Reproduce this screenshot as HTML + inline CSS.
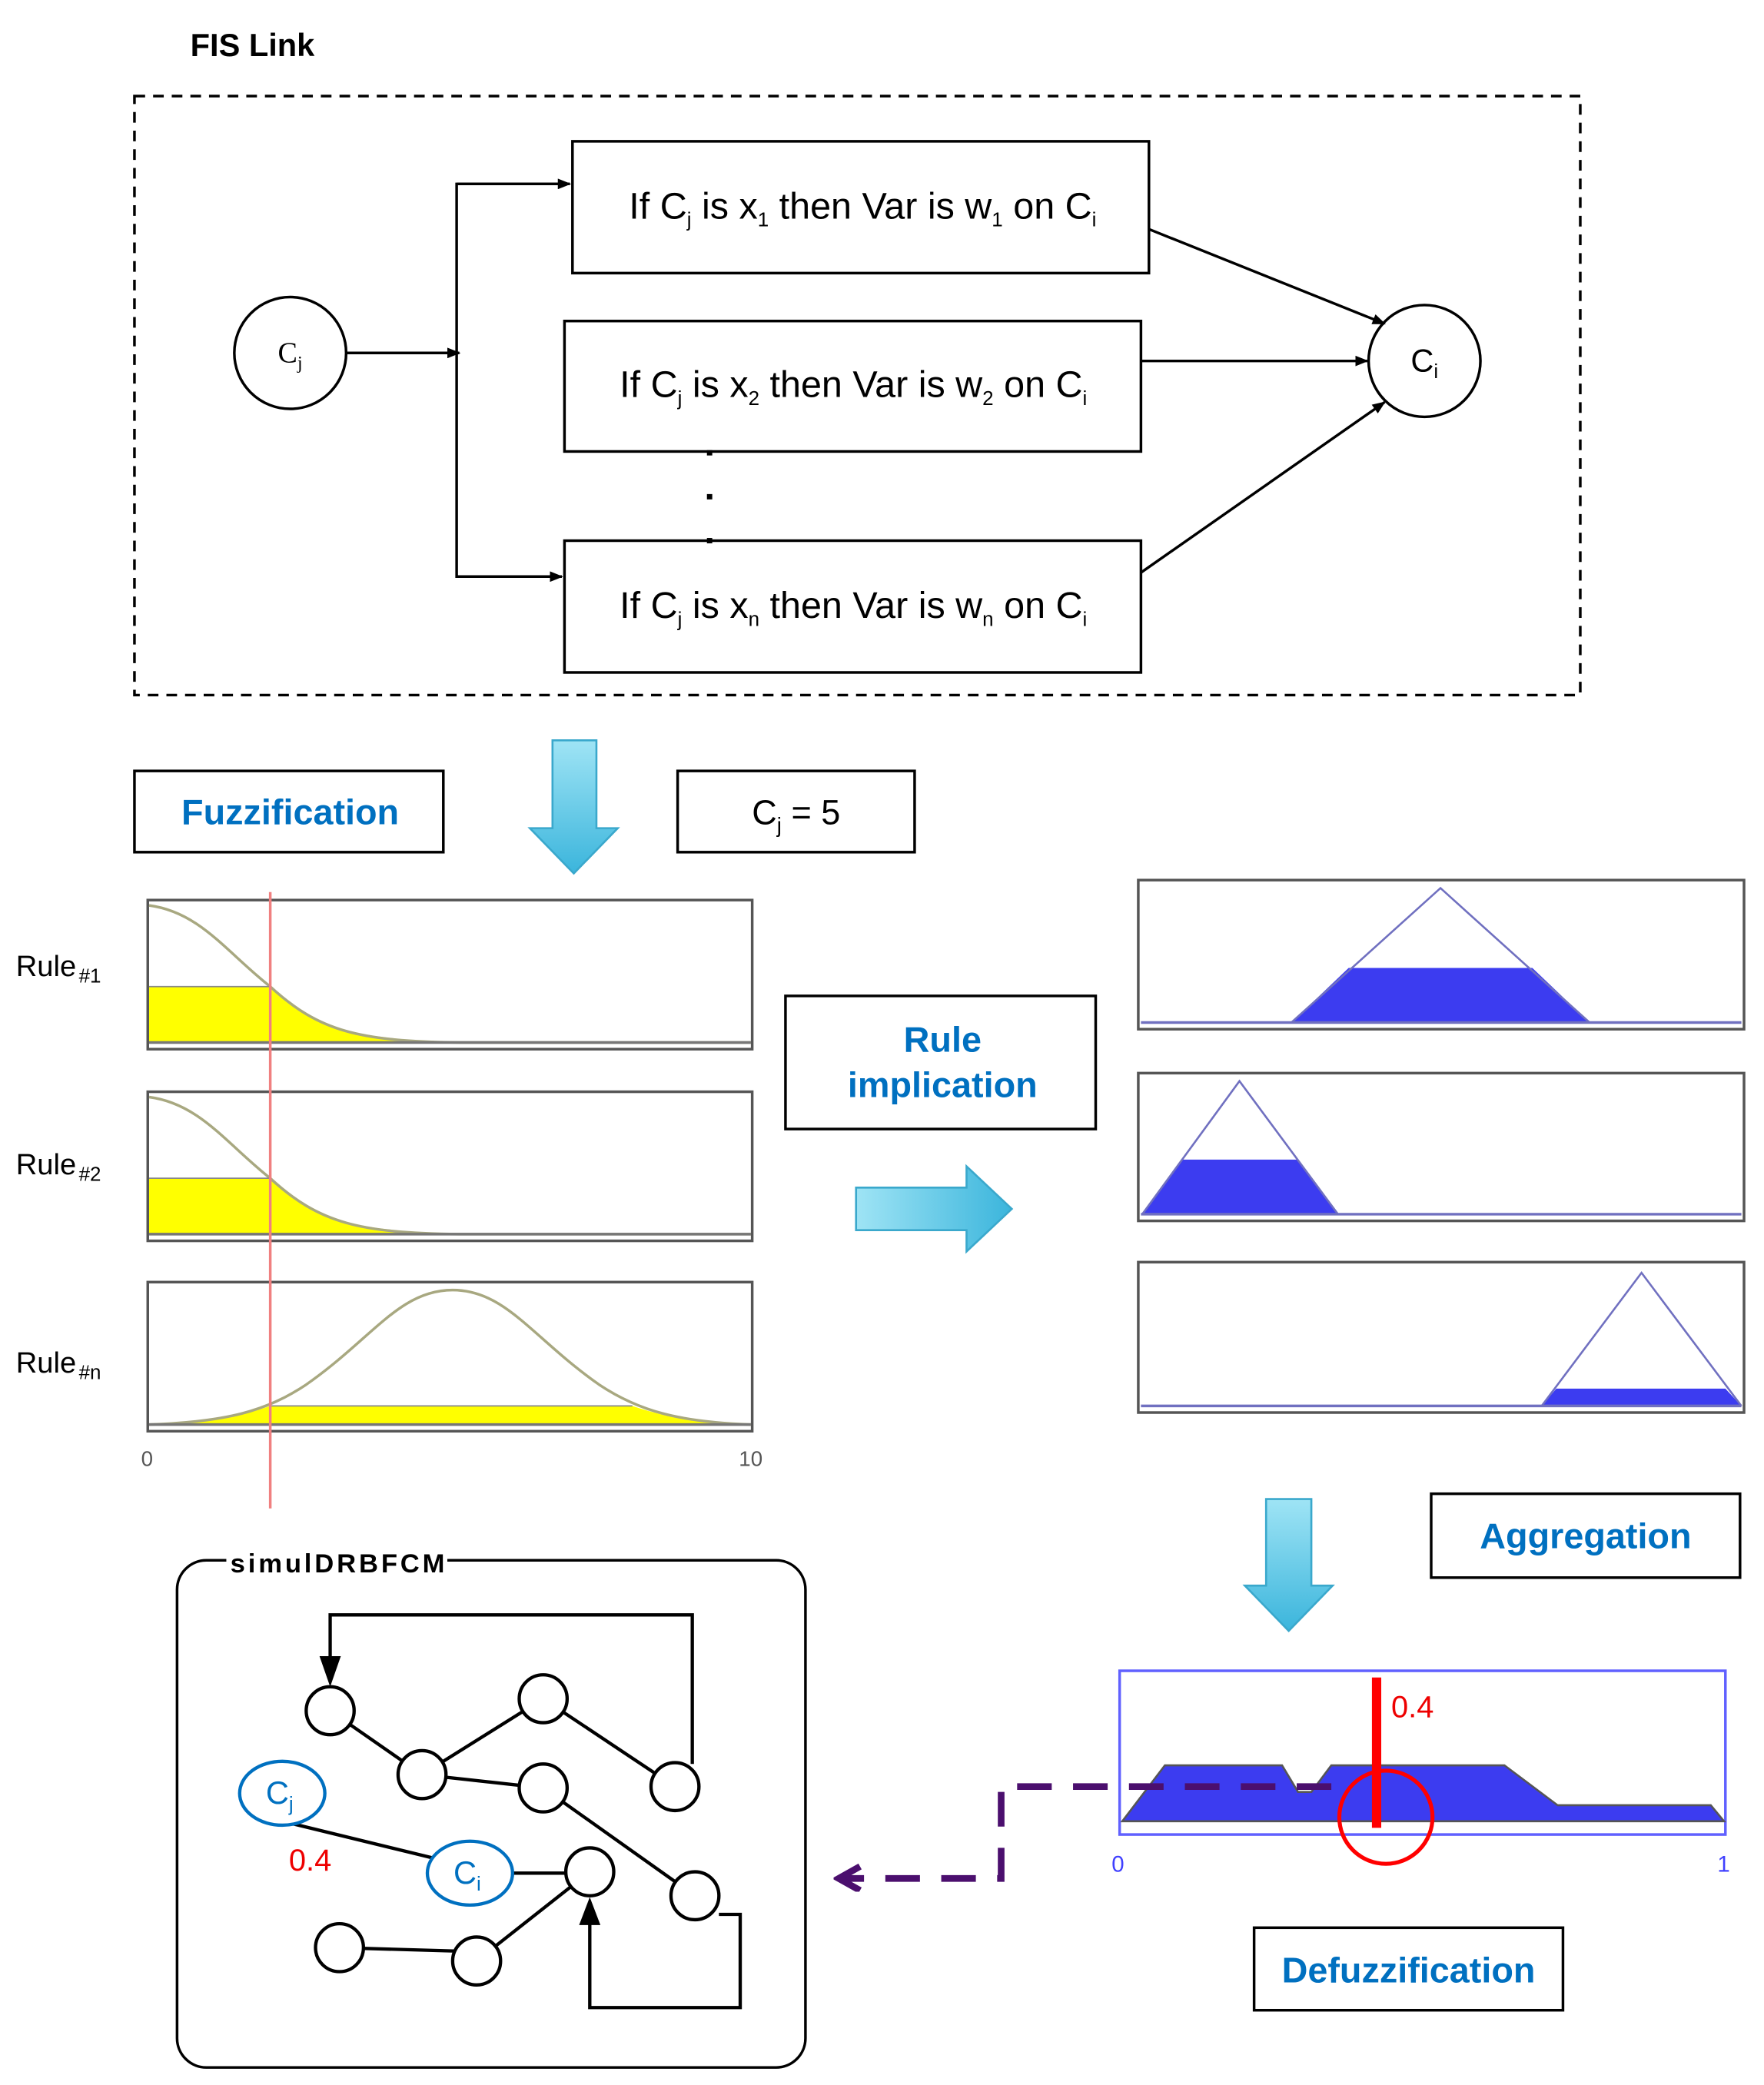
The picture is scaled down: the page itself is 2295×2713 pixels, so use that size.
<!DOCTYPE html>
<html><head><style>html,body{margin:0;padding:0;background:#fff}svg{display:block}</style></head>
<body>
<svg width="2295" height="2713" viewBox="0 0 1325 1566" xmlns="http://www.w3.org/2000/svg" font-family="Liberation Sans, sans-serif">
<defs>
<marker id="a" markerWidth="10" markerHeight="8" refX="9" refY="4" orient="auto" markerUnits="userSpaceOnUse"><path d="M0,0 L10,4 L0,8 Z" fill="#000"/></marker>
<marker id="p" markerWidth="22" markerHeight="22" refX="18" refY="10" orient="auto" markerUnits="userSpaceOnUse"><path d="M2,1 L18,10 L2,19" fill="none" stroke="#4b0f6e" stroke-width="5"/></marker>
<linearGradient id="g" x1="0" x2="1"><stop offset="0" stop-color="#9fe4f5"/><stop offset="1" stop-color="#3bb5dc"/></linearGradient>
<linearGradient id="gv" x1="0" x2="0" y1="0" y2="1"><stop offset="0" stop-color="#9fe4f5"/><stop offset="1" stop-color="#3bb5dc"/></linearGradient>
</defs>
<text x="143" y="42" font-size="24" font-weight="bold">FIS Link</text>
<rect x="101" y="72" width="1086" height="450" fill="none" stroke="#000" stroke-width="2" stroke-dasharray="8,6"/>
<circle cx="218" cy="265" r="42" fill="#fff" stroke="#000" stroke-width="2"/>
<text x="218" y="272" font-size="22" text-anchor="middle" font-family="Liberation Serif, serif">C<tspan font-size="14" dy="5">j</tspan></text>
<line x1="260" y1="265" x2="345" y2="265" stroke="#000" stroke-width="2" marker-end="url(#a)"/>
<path d="M428,138 H343 V433 H422" fill="none" stroke="#000" stroke-width="2"/>
<line x1="343" y1="138" x2="428" y2="138" stroke="#000" stroke-width="2" marker-end="url(#a)"/>
<line x1="343" y1="433" x2="422" y2="433" stroke="#000" stroke-width="2" marker-end="url(#a)"/>
<g fill="#fff" stroke="#000" stroke-width="2">
<rect x="430" y="106" width="433" height="99"/><rect x="424" y="241" width="433" height="98"/><rect x="424" y="406" width="433" height="99"/></g>
<g font-size="28" text-anchor="middle">
<text x="648" y="164">If C<tspan font-size="15" dy="6">j</tspan><tspan dy="-6"> is x</tspan><tspan font-size="15" dy="6">1</tspan><tspan dy="-6"> then Var is w</tspan><tspan font-size="15" dy="6">1</tspan><tspan dy="-6"> on C</tspan><tspan font-size="15" dy="6">i</tspan></text>
<text x="641" y="298">If C<tspan font-size="15" dy="6">j</tspan><tspan dy="-6"> is x</tspan><tspan font-size="15" dy="6">2</tspan><tspan dy="-6"> then Var is w</tspan><tspan font-size="15" dy="6">2</tspan><tspan dy="-6"> on C</tspan><tspan font-size="15" dy="6">i</tspan></text>
<text x="641" y="464">If C<tspan font-size="15" dy="6">j</tspan><tspan dy="-6"> is x</tspan><tspan font-size="15" dy="6">n</tspan><tspan dy="-6"> then Var is w</tspan><tspan font-size="15" dy="6">n</tspan><tspan dy="-6"> on C</tspan><tspan font-size="15" dy="6">i</tspan></text>
</g>
<g fill="#000"><rect x="531" y="338" width="4" height="4"/><rect x="531" y="371" width="4" height="4"/><rect x="531" y="404" width="4" height="4"/></g>
<circle cx="1070" cy="271" r="42" fill="#fff" stroke="#000" stroke-width="2"/>
<text x="1070" y="279" font-size="24" text-anchor="middle">C<tspan font-size="15" dy="5">i</tspan></text>
<line x1="863" y1="172" x2="1040" y2="243" stroke="#000" stroke-width="2" marker-end="url(#a)"/>
<line x1="857" y1="271" x2="1027" y2="271" stroke="#000" stroke-width="2" marker-end="url(#a)"/>
<line x1="857" y1="430" x2="1040" y2="302" stroke="#000" stroke-width="2" marker-end="url(#a)"/>
<!-- Fuzzification -->
<rect x="101" y="579" width="232" height="61" fill="#fff" stroke="#000" stroke-width="2"/>
<text x="218" y="619" font-size="27" font-weight="bold" fill="#0070c0" text-anchor="middle">Fuzzification</text>
<path d="M415,556 H448 V622 H464 L431,656 L398,622 H415 Z" fill="url(#gv)" stroke="#3aa8cc" stroke-width="1.5"/>
<rect x="509" y="579" width="178" height="61" fill="#fff" stroke="#000" stroke-width="2"/>
<text x="598" y="619" font-size="26" text-anchor="middle">C<tspan font-size="16" dy="6">j</tspan><tspan dy="-6"> = 5</tspan></text>
<!-- rule plots -->
<g stroke="#555" stroke-width="2" fill="#fff">
<rect x="111" y="676" width="454" height="112"/><rect x="111" y="820" width="454" height="112"/><rect x="111" y="963" width="454" height="112"/></g>
<rect x="112" y="741" width="91" height="42" fill="#ffff00"/>
<path d="M203,741 C240,775 270,780 345,783 L203,783 Z" fill="#ffff00"/>
<path d="M112,680 C150,685 170,715 203,741 C240,775 270,782 345,783 L564,783" fill="none" stroke="#a8a880" stroke-width="2"/>
<line x1="112" y1="741" x2="203" y2="741" stroke="#888" stroke-width="1"/>
<line x1="112" y1="783" x2="564" y2="783" stroke="#777" stroke-width="2"/>
<rect x="112" y="885" width="91" height="42" fill="#ffff00"/>
<path d="M203,885 C240,919 270,924 345,927 L203,927 Z" fill="#ffff00"/>
<path d="M112,824 C150,829 170,859 203,885 C240,919 270,926 345,927 L564,927" fill="none" stroke="#a8a880" stroke-width="2"/>
<line x1="112" y1="885" x2="203" y2="885" stroke="#888" stroke-width="1"/>
<line x1="112" y1="927" x2="564" y2="927" stroke="#777" stroke-width="2"/>
<path d="M203,1056 L475,1056 C505,1066 530,1070 564,1070 L120,1070 C160,1068 180,1064 203,1056 Z" fill="#ffff00"/>
<line x1="203" y1="1056" x2="475" y2="1056" stroke="#888" stroke-width="1"/>
<path d="M112,1070 C170,1068 200,1060 230,1040 C280,1005 300,969 340,969 C380,969 400,1005 450,1040 C480,1060 510,1068 564,1070" fill="none" stroke="#a8a880" stroke-width="2"/>
<line x1="112" y1="1070" x2="564" y2="1070" stroke="#777" stroke-width="2"/>
<line x1="203" y1="670" x2="203" y2="1133" stroke="#f08080" stroke-width="2"/>
<g font-size="22"><text x="12" y="733">Rule<tspan font-size="15" dx="2" dy="5">#1</tspan></text>
<text x="12" y="882">Rule<tspan font-size="15" dx="2" dy="5">#2</tspan></text>
<text x="12" y="1031">Rule<tspan font-size="15" dx="2" dy="5">#n</tspan></text></g>
<text x="106" y="1101" font-size="16" fill="#555">0</text><text x="555" y="1101" font-size="16" fill="#555">10</text>
<!-- rule implication -->
<rect x="590" y="748" width="233" height="100" fill="#fff" stroke="#000" stroke-width="2"/>
<text x="708" y="790" font-size="27" font-weight="bold" fill="#0070c0" text-anchor="middle">Rule</text>
<text x="708" y="824" font-size="27" font-weight="bold" fill="#0070c0" text-anchor="middle">implication</text>
<path d="M643,892 H726 V876 L760,908 L726,940 V924 H643 Z" fill="url(#g)" stroke="#3aa8cc" stroke-width="1.5"/>
<g stroke="#555" stroke-width="2" fill="#fff">
<rect x="855" y="661" width="455" height="112"/><rect x="855" y="806" width="455" height="111"/><rect x="855" y="948" width="455" height="113"/></g>
<path d="M970,768 L1013,727 L1151,727 L1194,768 Z" fill="#3c3cf0"/>
<path d="M970,768 L1082,667 L1194,768" fill="none" stroke="#7070c0" stroke-width="1.5"/>
<line x1="857" y1="768" x2="1308" y2="768" stroke="#7070c0" stroke-width="2"/>
<path d="M858,912 L888,871 L975,871 L1005,912 Z" fill="#3c3cf0"/>
<path d="M858,912 L931,812 L1005,912" fill="none" stroke="#7070c0" stroke-width="1.5"/>
<line x1="857" y1="912" x2="1308" y2="912" stroke="#7070c0" stroke-width="2"/>
<path d="M1158,1056 L1169,1043 L1296,1043 L1308,1056 Z" fill="#3c3cf0"/>
<path d="M1158,1056 L1233,956 L1308,1056" fill="none" stroke="#7070c0" stroke-width="1.5"/>
<line x1="857" y1="1056" x2="1308" y2="1056" stroke="#7070c0" stroke-width="2"/>
<!-- aggregation -->
<path d="M951,1126 H985 V1191 H1001 L968,1225 L935,1191 H951 Z" fill="url(#gv)" stroke="#3aa8cc" stroke-width="1.5"/>
<rect x="1075" y="1122" width="232" height="63" fill="#fff" stroke="#000" stroke-width="2"/>
<text x="1191" y="1163" font-size="27" font-weight="bold" fill="#0070c0" text-anchor="middle">Aggregation</text>
<rect x="841" y="1255" width="455" height="123" fill="#fff" stroke="#6060ff" stroke-width="2"/>
<path d="M843,1368 L875,1326 L963,1326 L975,1346 L985,1346 L1000,1326 L1130,1326 L1170,1356 L1285,1356 L1295,1368 Z" fill="#3c3cf0" stroke="#555" stroke-width="1.5"/>
<path d="M1000,1342 H752 V1411 H630" fill="none" stroke="#4b0f6e" stroke-width="5" stroke-dasharray="26,16" marker-end="url(#p)"/>
<line x1="1034" y1="1260" x2="1034" y2="1373" stroke="#f00" stroke-width="7"/>
<circle cx="1041" cy="1365" r="35" fill="none" stroke="#f00" stroke-width="3"/>
<text x="1045" y="1290" font-size="23" fill="#e00">0.4</text>
<text x="835" y="1406" font-size="17" fill="#4040ff">0</text><text x="1290" y="1406" font-size="17" fill="#4040ff">1</text>
<rect x="942" y="1448" width="232" height="62" fill="#fff" stroke="#000" stroke-width="2"/>
<text x="1058" y="1489" font-size="27" font-weight="bold" fill="#0070c0" text-anchor="middle">Defuzzification</text>
<!-- simulDRBFCM -->
<rect x="133" y="1172" width="472" height="381" rx="22" fill="#fff" stroke="#000" stroke-width="2"/>
<rect x="170" y="1162" width="166" height="20" fill="#fff"/>
<text x="173" y="1181" font-size="20" font-weight="bold" textLength="161">simulDRBFCM</text>
<g stroke="#000" stroke-width="2.5" fill="none">
<line x1="248" y1="1285" x2="317" y2="1333"/><line x1="317" y1="1333" x2="408" y2="1276"/><line x1="408" y1="1276" x2="507" y2="1342"/>
<line x1="317" y1="1333" x2="408" y2="1343"/><line x1="408" y1="1343" x2="522" y2="1424"/>
<line x1="212" y1="1368" x2="335" y2="1398"/><line x1="385" y1="1407" x2="443" y2="1407"/>
<line x1="443" y1="1406" x2="358" y2="1473"/><line x1="255" y1="1463" x2="358" y2="1466"/>
<path d="M520,1325 V1213 H248 V1255"/>
<path d="M540,1438 H556 V1508 H443 V1440"/>
</g>
<path d="M240,1244 L256,1244 L248,1267 Z" fill="#000"/>
<path d="M435,1446 L451,1446 L443,1425 Z" fill="#000"/>
<g fill="#fff" stroke="#000" stroke-width="2.5">
<circle cx="248" cy="1285" r="18"/><circle cx="408" cy="1276" r="18"/><circle cx="317" cy="1333" r="18"/><circle cx="408" cy="1343" r="18"/><circle cx="507" cy="1342" r="18"/><circle cx="443" cy="1406" r="18"/><circle cx="522" cy="1424" r="18"/><circle cx="255" cy="1463" r="18"/><circle cx="358" cy="1473" r="18"/></g>
<ellipse cx="212" cy="1347" rx="32" ry="24" fill="#fff" stroke="#0070c0" stroke-width="2.5"/>
<ellipse cx="353" cy="1407" rx="32" ry="24" fill="#fff" stroke="#0070c0" stroke-width="2.5"/>
<text x="210" y="1355" font-size="24" fill="#0070c0" text-anchor="middle">C<tspan font-size="15" dy="5">j</tspan></text>
<text x="351" y="1415" font-size="24" fill="#0070c0" text-anchor="middle">C<tspan font-size="15" dy="5">i</tspan></text>
<text x="217" y="1405" font-size="23" fill="#e00">0.4</text>
</svg>
</body></html>
